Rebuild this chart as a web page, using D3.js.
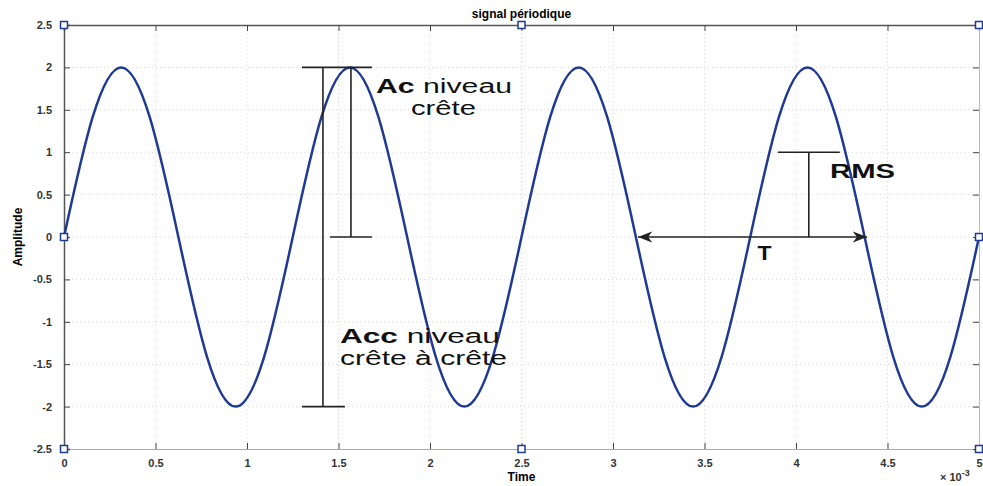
<html>
<head>
    <script src="https://d3js.org/d3.v7.min.js"></script>
    <style>
        body { margin: 0; background: #fff; }
        text { font-family: Arial, "Liberation Sans", sans-serif; }
    </style>
</head>
<body>
<div id="vis"></div>
<script>
    var timeValues = [0, 0.156, 0.3125, 0.469, 0.625, 0.781, 0.9375, 1.094,
        1.25, 1.406, 1.5625, 1.719, 1.875, 2.031, 2.1875, 2.344,
        2.5, 2.656, 2.8125, 2.969, 3.125, 3.281, 3.4375, 3.594,
        3.75, 3.906, 4.0625, 4.219, 4.375, 4.531, 4.6875, 4.844, 5];
    var amplitudeValues = [0, 1.41, 2, 1.41, 0, -1.41, -2, -1.41,
        0, 1.41, 2, 1.41, 0, -1.41, -2, -1.41,
        0, 1.41, 2, 1.41, 0, -1.41, -2, -1.41,
        0, 1.41, 2, 1.41, 0, -1.41, -2, -1.41, 0];
    var xTicks = [0, 0.5, 1, 1.5, 2, 2.5, 3, 3.5, 4, 4.5, 5];
    var yTicks = [-2.5, -2, -1.5, -1, -0.5, 0, 0.5, 1, 1.5, 2, 2.5];

    // annotation values (data units)
    var accX = 1.415, accTop = 2, accBottom = -2;
    var acX = 1.568, acBottom = 0;
    var rmsX = 4.07, rmsValue = 1;
    var periodStart = 3.137, periodEnd = 4.388;

    var W = 983, H = 486;
    var margin = { top: 25, right: 4, bottom: 37, left: 64 },
        width = W - margin.left - margin.right,
        height = H - margin.top - margin.bottom;

    var svg = d3.select("#vis").append("svg")
        .attr("width", W).attr("height", H);

    var g = svg.append("g")
        .attr("transform", "translate(" + margin.left + "," + margin.top + ")");

    var x = d3.scaleLinear().domain([0, 5]).range([0, width]);
    var y = d3.scaleLinear().domain([-2.5, 2.5]).range([height, 0]);

    // grid
    g.append("g").selectAll("line").data(xTicks.slice(1, -1)).enter().append("line")
        .attr("x1", d => x(d)).attr("x2", d => x(d))
        .attr("y1", 0).attr("y2", height)
        .attr("stroke", "#d8d8d8").attr("stroke-dasharray", "1,3");
    g.append("g").selectAll("line").data(yTicks.slice(1, -1)).enter().append("line")
        .attr("y1", d => y(d)).attr("y2", d => y(d))
        .attr("x1", 0).attr("x2", width)
        .attr("stroke", "#d8d8d8").attr("stroke-dasharray", "1,3");

    // axes (ticks inward)
    var fmt = d => String(d);
    var bottomAxis = g.append("g").attr("transform", "translate(0," + height + ")")
        .call(d3.axisBottom(x).tickValues(xTicks).tickSize(-6).tickPadding(10).tickFormat(fmt));
    var leftAxis = g.append("g")
        .call(d3.axisLeft(y).tickValues(yTicks).tickSize(-6).tickPadding(12).tickFormat(fmt));
    var topAxis = g.append("g")
        .call(d3.axisTop(x).tickValues(xTicks).tickSize(-6).tickFormat(""));
    var rightAxis = g.append("g").attr("transform", "translate(" + width + ",0)")
        .call(d3.axisRight(y).tickValues(yTicks).tickSize(-6).tickFormat(""));

    [bottomAxis, leftAxis, topAxis, rightAxis].forEach(function (a) {
        a.selectAll("text").style("font-size", "11px").style("font-weight", "bold").attr("fill", "#333");
        a.selectAll(".tick line").attr("stroke", "#444");
    });
    bottomAxis.select(".domain").attr("stroke", "#aaa");
    rightAxis.select(".domain").attr("stroke", "#bbb");
    topAxis.select(".domain").attr("stroke", "#555").attr("stroke-width", 1.5);
    leftAxis.select(".domain").attr("stroke", "#555").attr("stroke-width", 1.5);

    // signal
    var pts = timeValues.map((t, i) => [t, amplitudeValues[i]]);
    g.append("path").datum(pts)
        .attr("fill", "none")
        .attr("stroke", "#1f3a93")
        .attr("stroke-width", 2.5)
        .attr("d", d3.line().x(d => x(d[0])).y(d => y(d[1])).curve(d3.curveNatural));

    // annotations
    var ann = g.append("g").attr("stroke", "#222").attr("stroke-width", 1.6);
    ann.append("line").attr("x1", x(accX)).attr("x2", x(accX)).attr("y1", y(accTop)).attr("y2", y(accBottom));
    ann.append("line").attr("x1", x(accX) - 21).attr("x2", x(acX) + 21).attr("y1", y(accTop)).attr("y2", y(accTop));
    ann.append("line").attr("x1", x(accX) - 21).attr("x2", x(accX) + 22).attr("y1", y(accBottom)).attr("y2", y(accBottom));
    ann.append("line").attr("x1", x(acX)).attr("x2", x(acX)).attr("y1", y(accTop)).attr("y2", y(acBottom));
    ann.append("line").attr("x1", x(acX) - 21).attr("x2", x(acX) + 21).attr("y1", y(acBottom)).attr("y2", y(acBottom));
    ann.append("line").attr("x1", x(rmsX)).attr("x2", x(rmsX)).attr("y1", y(rmsValue)).attr("y2", y(0));
    ann.append("line").attr("x1", x(rmsX) - 31).attr("x2", x(rmsX) + 31).attr("y1", y(rmsValue)).attr("y2", y(rmsValue));

    svg.append("defs").append("marker").attr("id", "arr")
        .attr("viewBox", "0 0 10 10").attr("refX", 10).attr("refY", 5)
        .attr("markerWidth", 9).attr("markerHeight", 9).attr("orient", "auto-start-reverse")
        .append("path").attr("d", "M0,1 L10,5 L0,9 L3,5 Z").attr("fill", "#222");
    ann.append("line").attr("x1", x(periodStart)).attr("x2", x(periodEnd)).attr("y1", y(0)).attr("y2", y(0))
        .attr("marker-start", "url(#arr)").attr("marker-end", "url(#arr)");

    // annotation labels, stretched to the widths in the picture
    function label(tx, ty, parts, len) {
        var t = g.append("text").attr("x", tx).attr("y", ty)
            .attr("textLength", len).attr("lengthAdjust", "spacingAndGlyphs")
            .style("font-size", "20px").attr("fill", "#111");
        parts.forEach(function (p) {
            t.append("tspan").attr("font-weight", p[1] ? "bold" : "normal").text(p[0]);
        });
    }
    label(x(1.705), y(1.698), [["Ac", true], [" niveau", false]], 136);
    label(x(1.896), y(1.439), [["crête", false]], 65);
    label(x(1.508), y(-1.25), [["Acc", true], [" niveau", false]], 160);
    label(x(1.508), y(-1.509), [["crête à crête", false]], 167);
    label(x(4.186), y(0.696), [["RMS", true]], 65);
    label(x(3.79), y(-0.271), [["T", true]], 14);

    // selection handles
    var handles = [[0, 2.5], [2.5, 2.5], [5, 2.5], [0, 0], [5, 0], [0, -2.5], [2.5, -2.5], [5, -2.5]];
    g.append("g").selectAll("rect").data(handles).enter().append("rect")
        .attr("x", d => x(d[0]) - 3.5).attr("y", d => y(d[1]) - 3.5)
        .attr("width", 7).attr("height", 7)
        .attr("fill", "#fff").attr("stroke", "#1f3a93").attr("stroke-width", 1.5);

    // titles
    svg.append("text").attr("x", margin.left + width / 2).attr("y", 18)
        .attr("text-anchor", "middle").style("font-size", "12px").style("font-weight", "bold")
        .text("signal périodique");
    svg.append("text").attr("x", margin.left + width / 2).attr("y", 481)
        .attr("text-anchor", "middle").style("font-size", "12px").style("font-weight", "bold")
        .text("Time");
    svg.append("text").attr("transform", "translate(22," + (margin.top + height / 2) + ") rotate(-90)")
        .attr("text-anchor", "middle").style("font-size", "12px").style("font-weight", "bold")
        .text("Amplitude");
    var ex = svg.append("text").attr("x", 940).attr("y", 481)
        .style("font-size", "11px").style("font-weight", "bold").attr("fill", "#333");
    ex.append("tspan").text("\u00d7 10");
    ex.append("tspan").attr("dy", -5).style("font-size", "9px").text("-3");
</script>
</body>
</html>
